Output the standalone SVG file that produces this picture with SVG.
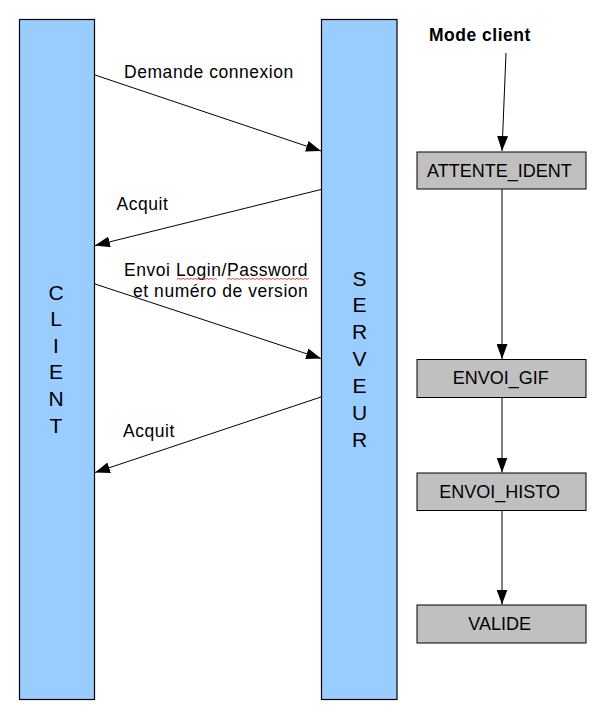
<svg xmlns="http://www.w3.org/2000/svg" width="605" height="718" viewBox="0 0 605 718">
<style>
.life{fill:#99ccff;stroke:#000;stroke-width:1.2}
.state{fill:#c0c0c0;stroke:#000;stroke-width:1}
.lbl{font-family:"Liberation Sans",Arial,sans-serif;font-size:17.5px;letter-spacing:0.55px;fill:#000}
.bold{font-weight:bold;letter-spacing:0.5px}
.box{font-family:"Liberation Sans",Arial,sans-serif;font-size:18px;fill:#000}
.vert{font-family:"Liberation Sans",Arial,sans-serif;font-size:21px;fill:#000;text-anchor:middle}
.conn{stroke:#000;stroke-width:1;fill:none;marker-end:url(#ah)}
.squig{stroke:#e02020;stroke-width:0.8;fill:none}
</style>
<defs>
<marker id="ah" viewBox="0 0 15 11" refX="15" refY="5.5" markerWidth="15" markerHeight="11" markerUnits="userSpaceOnUse" orient="auto">
<path d="M0,0 L15,5.5 L0,11 z" fill="#000"/>
</marker>
</defs>
<rect width="605" height="718" fill="#fff"/>

<g id="client">
<rect class="life" x="19.5" y="19.5" width="75" height="680"/>
<text class="vert" x="56" y="299.5">C</text>
<text class="vert" x="56" y="326">L</text>
<text class="vert" x="56" y="352.7">I</text>
<text class="vert" x="56" y="379.4">E</text>
<text class="vert" x="56" y="406">N</text>
<text class="vert" x="56" y="432.8">T</text>
</g>

<g id="serveur">
<rect class="life" x="321.5" y="19.5" width="75.5" height="680"/>
<text class="vert" x="359.5" y="285.5">S</text>
<text class="vert" x="359.5" y="312.3">E</text>
<text class="vert" x="359.5" y="339.2">R</text>
<text class="vert" x="359.5" y="366">V</text>
<text class="vert" x="359.5" y="392.8">E</text>
<text class="vert" x="359.5" y="419.7">U</text>
<text class="vert" x="359.5" y="446.5">R</text>
</g>

<g id="mode_client">
<text class="lbl bold" x="429" y="41">Mode client</text>
</g>

<g id="attente_ident">
<rect class="state" x="417" y="152" width="169" height="37"/>
<text class="box" x="427" y="176.5">ATTENTE_IDENT</text>
</g>

<g id="envoi_gif">
<rect class="state" x="417" y="359.5" width="169" height="38"/>
<text class="box" x="452.7" y="384">ENVOI_GIF</text>
</g>

<g id="envoi_histo">
<rect class="state" x="417" y="473" width="169" height="37.5"/>
<text class="box" x="439.3" y="497.5">ENVOI_HISTO</text>
</g>

<g id="valide">
<rect class="state" x="417" y="605" width="169" height="38"/>
<text class="box" x="468.3" y="630">VALIDE</text>
</g>

<g id="connectors">
<line class="conn" x1="95" y1="75" x2="321" y2="151"/>
<line class="conn" x1="321" y1="189.5" x2="95" y2="245.5"/>
<line class="conn" x1="95" y1="284" x2="321" y2="358.5"/>
<line class="conn" x1="321" y1="397" x2="95" y2="472.5"/>
<line class="conn" x1="506" y1="53" x2="502" y2="151"/>
<line class="conn" x1="502" y1="189" x2="502" y2="359"/>
<line class="conn" x1="502" y1="397.5" x2="502" y2="472.5"/>
<line class="conn" x1="502" y1="510.5" x2="502" y2="604.5"/>
</g>

<g id="labels">
<text class="lbl" x="124" y="77.5">Demande connexion</text>
<text class="lbl" x="116.5" y="209.5">Acquit</text>
<text class="lbl" x="124" y="276">Envoi Login/Password</text>
<text class="lbl" x="133" y="297">et numéro de version</text>
<text class="lbl" x="123" y="437">Acquit</text>
<path class="squig" d="M177,279.5 l2,-1.2 l2,1.2 l2,-1.2 l2,1.2 l2,-1.2 l2,1.2 l2,-1.2 l2,1.2 l2,-1.2 l2,1.2 l2,-1.2 l2,1.2 l2,-1.2 l2,1.2 l2,-1.2 l2,1.2 l2,-1.2 l2,1.2 l2,-1.2 l2,1.2"/>
<path class="squig" d="M227,279.5 l2,-1.2 l2,1.2 l2,-1.2 l2,1.2 l2,-1.2 l2,1.2 l2,-1.2 l2,1.2 l2,-1.2 l2,1.2 l2,-1.2 l2,1.2 l2,-1.2 l2,1.2 l2,-1.2 l2,1.2 l2,-1.2 l2,1.2 l2,-1.2 l2,1.2 l2,-1.2 l2,1.2 l2,-1.2 l2,1.2 l2,-1.2 l2,1.2 l2,-1.2 l2,1.2 l2,-1.2 l2,1.2 l2,-1.2 l2,1.2 l2,-1.2 l2,1.2 l2,-1.2 l2,1.2 l2,-1.2 l2,1.2 l2,-1.2 l2,1.2 l2,-1.2"/>
</g>
</svg>
